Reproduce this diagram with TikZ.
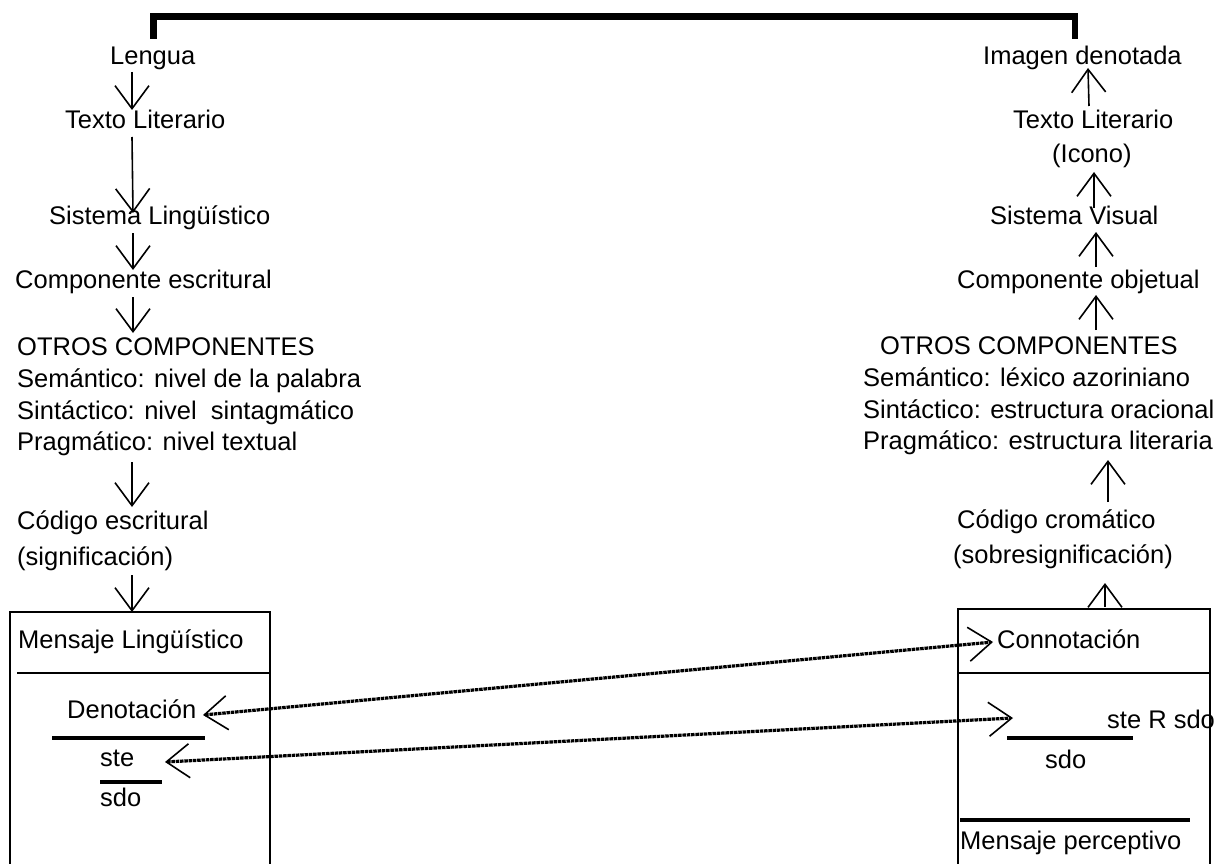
\documentclass[tikz,border=0pt]{standalone}
\usepackage{fontspec}
\setmainfont{Liberation Sans}
\usetikzlibrary{arrows.meta}
\begin{document}
\begin{tikzpicture}[x=1pt,y=-1pt,
  txt/.style={anchor=base west,inner sep=0pt,font=\fontsize{25.5}{30}\selectfont},
  tipv/.tip={Straight Barb[length=23pt,width=34pt,line width=1.6pt]},
  arr/.style={-tipv,line width=1.6pt},
  arrthick/.style={-tipv,line width=2.8pt},
  dots/.style={tipv-tipv,line width=3.2pt,dash pattern=on 3.5pt off 0.8pt},
  boxline/.style={line width=1.8pt},
  fracline/.style={line width=3.4pt}]
\useasboundingbox (0,0) rectangle (1221,864);
% top bracket
\coordinate (bl) at (153.5,39);
\coordinate (br) at (1075,39);
\draw[line width=6.5pt,line join=miter] (bl) -- (153.5,16.7) -- (1075,16.7) -- (br);
% left column
\node[txt] (lengua) at (110,65) {Lengua};
\node[txt] (texto1) at (65,129) {Texto Literario};
\node[txt] (sistema1) at (49,224) {Sistema Lingüístico};
\node[txt] (comp1) at (15,288) {Componente escritural};
\node[txt] (otros1) at (17,355) {OTROS COMPONENTES};
\node[txt] (sem1) at (17,387) {Semántico: nivel de la palabra};
\node[txt] (sin1) at (17,419) {Sintáctico: nivel\ \ sintagmático};
\node[txt] (prag1) at (17,450) {Pragmático: nivel textual};
\node[txt] (cod1) at (17,529) {Código escritural};
\node[txt] (sig1) at (17,565) {(significación)};
% right column
\node[txt] (imagen) at (983,65) {Imagen denotada};
\node[txt] (texto2) at (1013,129) {Texto Literario};
\node[txt] (icono) at (1052,162) {(Icono)};
\node[txt] (sistema2) at (990,224) {Sistema Visual};
\node[txt] (comp2) at (957,288) {Componente objetual};
\node[txt] (otros2) at (880,354) {OTROS COMPONENTES};
\node[txt] (sem2) at (863,386) {Semántico: léxico azoriniano};
\node[txt] (sin2) at (863,418) {Sintáctico: estructura oracional};
\node[txt] (prag2) at (863,449) {Pragmático: estructura literaria};
\node[txt] (cod2) at (957,528) {Código cromático};
\node[txt] (sob2) at (953,563) {(sobresignificación)};
% left box
\draw[boxline] (10,880) -- (10,612) -- (270,612) -- (270,880);
\draw[boxline] (17,673) -- (270,673);
\node[txt] (mensaje1) at (18,648) {Mensaje Lingüístico};
\node[txt] (deno) at (67,718) {Denotación};
\draw[fracline] (52,738) -- (205,738);
\node[txt] (ste1) at (100,766) {ste};
\draw[fracline] (100,782) -- (162,782);
\node[txt] (sdo1) at (100,806) {sdo};
% right box
\draw[boxline] (958,880) -- (958,609) -- (1210,609) -- (1210,880);
\draw[boxline] (958,673) -- (1210,673);
\node[txt] (conno) at (997,648) {Connotación};
\node[txt] (steR) at (1107,728) {ste R sdo};
\draw[fracline] (1007,738) -- (1133,738);
\node[txt] (sdo2) at (1045,768) {sdo};
\draw[fracline] (960,820) -- (1190,820);
\node[txt] (mensaje2) at (960,849) {Mensaje perceptivo};
% left arrows
\coordinate (l1s) at (132,72);  \coordinate (l1e) at (132,110);
\coordinate (l2s) at (132,137); \coordinate (l2e) at (133,213);
\coordinate (l3s) at (133,233); \coordinate (l3e) at (133,270);
\coordinate (l4s) at (133,297); \coordinate (l4e) at (133,333);
\coordinate (l5s) at (132,462); \coordinate (l5e) at (132,507);
\coordinate (l6s) at (132,575); \coordinate (l6e) at (132,612);
\draw[arrthick] (l1s) -- (l1e);
\draw[arr] (l2s) -- (l2e);
\draw[arrthick] (l3s) -- (l3e);
\draw[arr] (l4s) -- (l4e);
\draw[arr] (l5s) -- (l5e);
\draw[arr] (l6s) -- (l6e);
% right arrows
\coordinate (r1s) at (1089,106); \coordinate (r1e) at (1088,68);
\coordinate (r2s) at (1094,208); \coordinate (r2e) at (1094,172);
\coordinate (r3s) at (1096,267); \coordinate (r3e) at (1096,232);
\coordinate (r4s) at (1096,330); \coordinate (r4e) at (1096,295);
\coordinate (r5s) at (1108,502); \coordinate (r5e) at (1108,460);
\coordinate (r6s) at (1105,607); \coordinate (r6e) at (1105,583);
\draw[arr] (r1s) -- (r1e);
\draw[arrthick] (r2s) -- (r2e);
\draw[arrthick] (r3s) -- (r3e);
\draw[arr] (r4s) -- (r4e);
\draw[arr] (r5s) -- (r5e);
\draw[arr] (r6s) -- (r6e);
% dotted links
\coordinate (d1a) at (203,715); \coordinate (d1b) at (993,642);
\coordinate (d2a) at (165,762); \coordinate (d2b) at (1013,718);
\draw[dots] (d1a) -- (d1b);
\draw[dots] (d2a) -- (d2b);
\end{tikzpicture}
\end{document}
